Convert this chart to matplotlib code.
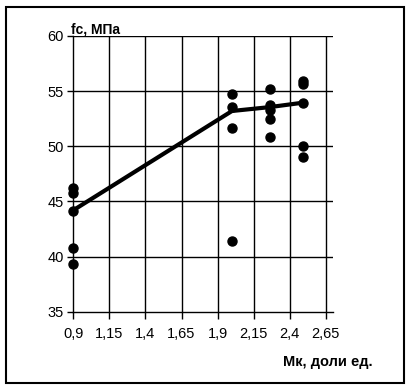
import matplotlib
matplotlib.use("Agg")
import matplotlib.pyplot as plt
from matplotlib.patches import Rectangle

# data
pts_x = [0.9, 0.9, 0.9, 0.9, 0.9,
         2.0, 2.0, 2.0, 2.0,
         2.26, 2.26, 2.26, 2.26, 2.26,
         2.49, 2.49, 2.49, 2.49, 2.49]
pts_y = [46.25, 45.75, 44.15, 40.8, 39.3,
         54.7, 53.6, 51.7, 41.45,
         55.2, 53.7, 53.3, 52.45, 50.8,
         55.95, 55.65, 53.95, 50.05, 49.05]
line_x = [0.9, 2.0, 2.26, 2.49]
line_y = [44.2, 53.2, 53.55, 53.95]
xticks = [0.9, 1.15, 1.4, 1.65, 1.9, 2.15, 2.4, 2.65]
xtick_labels = ["0,9", "1,15", "1,4", "1,65", "1,9", "2,15", "2,4", "2,65"]
yticks = [35, 40, 45, 50, 55, 60]

plt.rcParams['font.family'] = ['Liberation Sans', 'DejaVu Sans']

fig = plt.figure(figsize=(4.1, 3.9), dpi=100)
fig.patches.append(Rectangle((6/410, 1-383/390), 398/410, 376/390,
                             transform=fig.transFigure, fill=False,
                             edgecolor='black', linewidth=1.5, zorder=0))
ax = fig.add_axes([73.3/410, 1-311.7/390, (333-73.3)/410, (311.7-36)/390])

ax.set_xlim(0.9, 2.7)
ax.set_ylim(35, 60)
ax.set_xticks(xticks)
ax.set_xticklabels(xtick_labels)
ax.set_yticks(yticks)

for t in xticks[1:]:
    ax.plot([t, t], [35, 60], color='black', lw=1.0, zorder=1)
for t in yticks[1:]:
    ax.plot([0.9, 2.7], [t, t], color='black', lw=1.0, zorder=1)

for s in ['top', 'right']:
    ax.spines[s].set_visible(False)
for s in ['left', 'bottom']:
    ax.spines[s].set_linewidth(1.0)

ax.tick_params(axis='y', direction='out', length=4, width=1.0, labelsize=10.5, pad=3)
ax.tick_params(axis='x', direction='out', length=5, width=1.0, labelsize=10.5, pad=6)

ax.plot(line_x, line_y, color='black', lw=3.0, zorder=3, solid_capstyle='round')
ax.plot(pts_x, pts_y, 'o', color='black', markersize=6.5, zorder=4, clip_on=False)

fig.text(71/410, 1-36/390, "fc, МПа", fontsize=10, fontweight='bold', ha='left', va='bottom')
fig.text(283/410, 1-362/390, "Мк, доли ед.", fontsize=10.5, fontweight='bold', ha='left', va='center')

fig.savefig("out.png", dpi=100)
